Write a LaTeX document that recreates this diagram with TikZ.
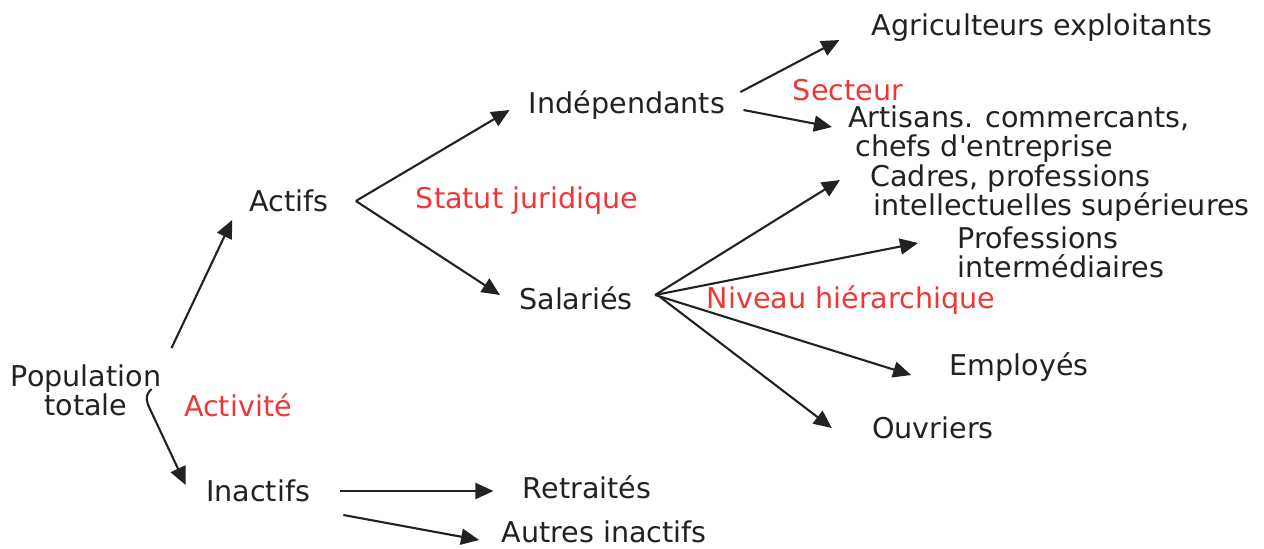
\documentclass[tikz,border=0pt]{standalone}
\usepackage{fontspec}
\setmainfont{DejaVu Sans}
\usetikzlibrary{arrows.meta}
\definecolor{lbl}{RGB}{34,34,34}
\definecolor{redlbl}{RGB}{240,55,55}
\begin{document}
\begin{tikzpicture}[x=0.5pt,y=-0.5pt,
  txt/.style={inner sep=0pt,text=lbl,font=\fontsize{14.3}{14.5}\selectfont},
  red/.style={txt,text=redlbl},
  arr/.style={draw=lbl,line width=1.05pt,-{Triangle[length=9pt,width=8pt]}}]
\useasboundingbox (0,0) rectangle (1264,548);
\fill[white] (0,0) rectangle (1264,548);
% nodes
\node[txt,align=center] (pop) at (86,390) {Population\\totale};
\node[red] (activ) at (238,405) {Activité};
\node[txt] (act) at (289,201) {Actifs};
\node[txt] (inact) at (258,491) {Inactifs};
\node[red] (statut) at (527,201) {Statut juridique};
\node[txt] (ind) at (627,105) {Indépendants};
\node[txt] (sal) at (576,298) {Salariés};
\node[red] (sect) at (848,90) {Secteur};
\node[txt] (agri) at (1042,28) {Agriculteurs exploitants};
\node[txt,align=left,anchor=west] (art) at (848,134) {Artisans. commercants,\\\hspace{3.5pt}chefs d\textquotesingle entreprise};
\node[txt,align=left,anchor=west] (cad) at (870,193) {Cadres, professions\\\hspace{1.5pt}intellectuelles supérieures};
\node[txt,align=left,anchor=west] (prof) at (957,252) {Professions\\intermédiaires};
\node[red] (niv) at (851,300) {Niveau hiérarchique};
\node[txt] (emp) at (1019,367) {Employés};
\node[txt] (ouv) at (933,428) {Ouvriers};
\node[txt] (ret) at (587,487) {Retraités};
\node[txt] (aut) at (604,532) {Autres inactifs};
% connectors
\draw[arr] ([shift={(10,-42)}]pop.east) -- ([shift={(-17,19)}]act.west);
\draw[arr] ([shift={(-10,-1)}]pop.east) .. controls ([shift={(-18,6)}]pop.east) and ([shift={(-14,14)}]pop.east) .. ([shift={(-12,18)}]pop.east) -- ([shift={(-20,-6)}]inact.west);
\draw[arr] ([shift={(27,0)}]act.east) -- ([shift={(-19,5)}]ind.west);
\draw[arr] ([shift={(27,0)}]act.east) -- ([shift={(-19,-3)}]sal.west);
\draw[arr] ([shift={(15,-13)}]ind.east) -- ([shift={(-32,12)}]agri.west);
\draw[arr] ([shift={(18,5)}]ind.east) -- ([shift={(-16,-7)}]art.west);
\draw[arr] ([shift={(22,-3)}]sal.east) -- ([shift={(-30,-13)}]cad.west);
\draw[arr] ([shift={(22,-3)}]sal.east) -- ([shift={(-39,-9)}]prof.west);
\draw[arr] ([shift={(22,-3)}]sal.east) -- ([shift={(-38,8)}]emp.west);
\draw[arr] ([shift={(27,-1)}]sal.east) -- ([shift={(-40,0)}]ouv.west);
\draw[arr] ([shift={(30,0)}]inact.east) -- ([shift={(-29,4)}]ret.west);
\draw[arr] ([shift={(33,24)}]inact.east) -- ([shift={(-22,8)}]aut.west);
\end{tikzpicture}
\end{document}
